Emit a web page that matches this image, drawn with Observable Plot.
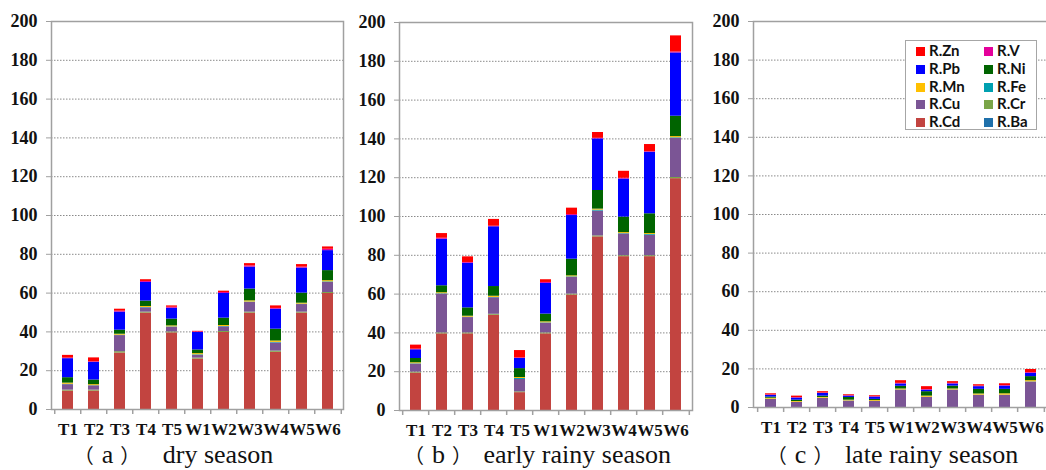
<!DOCTYPE html>
<html><head><meta charset="utf-8">
<script src="https://cdn.jsdelivr.net/npm/d3@7"></script>
<script src="https://cdn.jsdelivr.net/npm/@observablehq/plot@0.6"></script>
</head><body style="margin:0;background:#fff;"><div id="wrap" style="position:relative;width:1046px;height:470px;overflow:hidden;background:#fff;"></div><script>
const sites = ["T1","T2","T3","T4","T5","W1","W2","W3","W4","W5","W6"];
const metals = ["R.Ba","R.Cd","R.Cr","R.Cu","R.Fe","R.Mn","R.Ni","R.Pb","R.V","R.Zn"];
const metalColors = ["#1f70aa","#c24440","#7aa548","#7b5595","#00a0b0","#ffc000","#006400","#0000ff","#e4009a","#ff0000"];
const yTicks = [0,20,40,60,80,100,120,140,160,180,200];
const legendOrder = ["R.Zn","R.V","R.Pb","R.Ni","R.Mn","R.Fe","R.Cu","R.Cr","R.Cd","R.Ba"];
const titleLetters = ["a","b","c"];
const titleNames = ["dry season","early rainy season","late rainy season"];

// rows follow metals order (Ba, Cd, Cr, Cu, Fe, Mn, Ni, Pb, V, Zn); columns follow sites
const drySeason = [
  [0,0,0,0,0,0,0,0,0,0,0],
  [9.5,9.5,29.1,49.7,39.5,26.0,39.7,49.7,29.5,49.7,59.8],
  [0.5,0.5,0.7,0.5,0.5,0.5,0.5,0.5,0.6,0.5,0.5],
  [2.8,2.2,8.3,2.2,2.4,1.4,2.4,5.0,4.2,3.9,5.2],
  [0.2,0.1,0.2,0.2,0.2,0.3,0.2,0.2,0.3,0.2,0.3],
  [0.6,0.5,0.5,0.5,0.5,0.6,0.5,0.6,0.7,0.5,0.6],
  [2.8,2.4,2.1,2.8,3.5,1.9,3.8,6.1,6.1,5.2,5.2],
  [9.8,9.1,9.3,9.6,5.6,9.0,12.7,11.3,10.3,12.9,10.3],
  [0.3,0.3,0.5,0.5,0.5,0.3,0.5,0.6,0.4,0.5,0.7],
  [1.4,2.0,1.0,0.9,0.7,0.3,0.7,1.2,1.3,1.3,1.2]
];
const earlyRainy = [
  [0,0,0,0,0,0,0,0,0,0,0],
  [19.3,39.5,39.5,49.1,9.2,39.5,59.5,89.5,79.3,79.3,119.5],
  [0.5,0.5,0.5,0.5,0.4,0.5,0.5,0.5,0.5,0.5,0.6],
  [4.1,20.0,7.9,8.5,6.4,5.0,8.6,12.8,11.2,10.5,20.2],
  [0.2,0.2,0.2,0.2,0.5,0.2,0.3,0.5,0.2,0.4,0.3],
  [0.5,0.5,0.5,0.6,0.5,0.5,0.5,0.5,0.5,0.5,0.6],
  [2.2,3.6,4.3,5.0,4.6,4.0,8.6,9.6,8.0,10.2,10.5],
  [4.5,24.0,23.0,30.8,5.2,15.8,22.5,26.6,19.6,31.7,32.6],
  [0.3,0.5,0.4,0.3,0.3,0.5,0.5,0.3,0.4,0.3,0.5],
  [2.1,2.4,2.9,3.5,3.8,1.4,3.3,3.0,3.6,3.7,8.3]
];
const lateRainy = [
  [0,0,0,0,0,0,0,0,0,0,0],
  [0,0,0,0,0,0,0,0,0,0,0],
  [0,0,0,0,0,0,0,0,0,0,0],
  [4.2,2.6,4.7,3.3,3.1,9.0,5.2,9.0,6.3,6.3,13.2],
  [0.1,0.1,0.1,0.1,0.1,0.1,0.1,0.1,0.1,0.1,0.1],
  [0.5,0.4,0.4,0.4,0.4,0.5,0.6,0.5,0.6,0.7,0.6],
  [0.6,0.7,0.7,1.4,0.6,1.4,2.3,1.5,2.4,2.3,2.1],
  [0.9,1.1,1.4,0.7,1.2,1.2,0.8,1.1,1.4,1.7,1.7],
  [0.2,0.2,0.2,0.2,0.2,0.3,0.3,0.3,0.3,0.3,0.4],
  [0.6,0.8,0.7,0.5,0.5,1.4,1.5,0.9,0.7,0.9,1.6]
];

const SERIF = "'Liberation Serif', 'Times New Roman', serif";
const CJK = "'Noto Sans CJK SC', sans-serif";
const panels = [
  {values: drySeason, left: 0, width: 349, ml: 51, mr: 6, mt: 21, mb: 61, tx: 176, gap: 16},
  {values: earlyRainy, left: 349, width: 350, ml: 50, mr: 7, mt: 22, mb: 60, tx: 540, gap: 5},
  {values: lateRainy, left: 700, width: 348, ml: 53, mr: 1, mt: 21, mb: 63, tx: 895, gap: 5}
];

const wrap = document.getElementById("wrap");
panels.forEach((p, pi) => {
  const data = [];
  metals.forEach((m, i) => sites.forEach((s, j) => data.push({site: s, metal: m, value: p.values[i][j]})));
  const step = (p.width - p.ml - p.mr) / sites.length;
  const chart = Plot.plot({
    width: p.width, height: 470,
    marginLeft: p.ml, marginRight: p.mr, marginTop: p.mt, marginBottom: p.mb,
    style: {background: "transparent", color: "#111", fontFamily: SERIF},
    x: {domain: sites, paddingInner: 0.58, paddingOuter: 0.29, label: null},
    y: {domain: [0, 200], label: null},
    color: {domain: metals, range: metalColors},
    marks: [
      Plot.gridY(yTicks.filter(t => t > 0 && t < 200), {stroke: "#8a8a8a", strokeOpacity: 1, strokeDasharray: "1.5,1.5"}),
      Plot.barY(data, {x: "site", y: "value", fill: "metal", z: "metal", order: metals}),
      Plot.frame({stroke: "#a0a0a0", strokeWidth: 1.5}),
      Plot.ruleX(sites, {x: d => d, y1: 0, y2: 0, insetBottom: -5, dx: -step / 2, stroke: "#a0a0a0", strokeWidth: 1.5}),
      Plot.ruleX(sites.slice(-1), {x: d => d, y1: 0, y2: 0, insetBottom: -5, dx: step / 2, stroke: "#a0a0a0", strokeWidth: 1.5}),
      Plot.axisY({ticks: yTicks, tickSize: 5, tickPadding: 9, stroke: "#a0a0a0", fontSize: 18, fontWeight: "bold", fontFamily: SERIF, fill: "#111"}),
      Plot.axisX({tickSize: 0, tickPadding: 13, fontSize: 17, fontWeight: "bold", fontFamily: SERIF, fill: "#111"})
    ]
  });
  chart.style.position = "absolute";
  chart.style.top = "0px";
  chart.style.left = p.left + "px";
  wrap.appendChild(chart);
  const t = document.createElement("div");
  Object.assign(t.style, {position: "absolute", top: "442px", left: p.tx + "px", fontFamily: SERIF, fontSize: "26px", lineHeight: "26px", whiteSpace: "nowrap", transform: "translateX(-50%)", color: "#111"});
  const pa = document.createElement("span");
  Object.assign(pa.style, {fontFamily: CJK, fontSize: "20px", lineHeight: "18px", marginRight: "8px", marginLeft: "-5px"});
  pa.textContent = "（";
  const pb = document.createElement("span");
  Object.assign(pb.style, {fontFamily: CJK, fontSize: "20px", lineHeight: "18px", marginLeft: "7px", marginRight: p.gap + "px"});
  pb.textContent = "）";
  t.appendChild(pa);
  t.appendChild(document.createTextNode(titleLetters[pi]));
  t.appendChild(pb);
  t.appendChild(document.createTextNode(" " + titleNames[pi]));
  wrap.appendChild(t);
});

const legend = document.createElement("div");
Object.assign(legend.style, {position: "absolute", left: "905px", top: "40px", width: "130px", height: "88px", border: "1.5px solid #a6a6a6", background: "#fff"});
legendOrder.forEach((m, k) => {
  const row = Math.floor(k / 2), col = k % 2;
  const item = document.createElement("div");
  Object.assign(item.style, {position: "absolute", left: (col === 0 ? 10 : 78) + "px", top: (1 + row * 17.8) + "px", fontFamily: "Lato, 'Liberation Sans', sans-serif", fontWeight: "bold", fontSize: "15px", lineHeight: "16px", color: "#111", whiteSpace: "nowrap"});
  const sw = document.createElement("span");
  Object.assign(sw.style, {display: "inline-block", width: "9px", height: "9px", marginRight: "4px", background: metalColors[metals.indexOf(m)]});
  item.appendChild(sw);
  item.appendChild(document.createTextNode(m));
  legend.appendChild(item);
});
wrap.appendChild(legend);
</script></body></html>
